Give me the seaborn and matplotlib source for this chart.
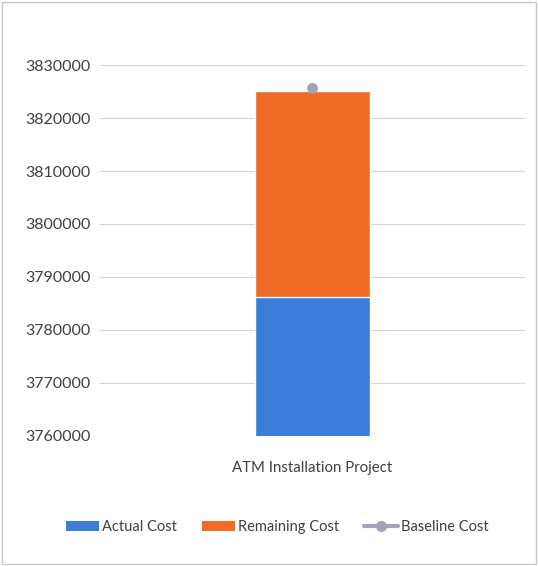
import pandas as pd
import seaborn as sns
import matplotlib.pyplot as plt
from matplotlib.patches import Patch, Rectangle
from matplotlib.lines import Line2D
from matplotlib.ticker import FuncFormatter

# Chart values
projects = ["ATM Installation Project"]
actual_cost = [3786200]
remaining_cost = [39000]
baseline_cost = [3825600]

df = pd.DataFrame({
    "Project": projects,
    "Actual": actual_cost,
    "Remaining": remaining_cost,
    "Baseline": baseline_cost,
})
df["Total"] = df["Actual"] + df["Remaining"]

sns.set_theme(style="white")
plt.rcParams["font.family"] = ["Lato", "DejaVu Sans"]

blue = "#3b7dd8"
orange = "#ef6b26"
gray = "#a3a3b8"
text_col = "#404040"

fig = plt.figure(figsize=(5.38, 5.66), dpi=100)
ax = fig.add_axes([0.186, 0.230, 0.79, 0.655])

sns.barplot(data=df, x="Project", y="Total", color=orange, width=0.27,
            saturation=1, ax=ax, zorder=2)
sns.barplot(data=df, x="Project", y="Actual", color=blue, width=0.27,
            saturation=1, ax=ax, zorder=3)
sns.scatterplot(data=df, x="Project", y="Baseline", color=gray, s=60,
                marker="o", edgecolor="none", ax=ax, zorder=4)

ax.set_ylim(3760000, 3830000)
ax.set_xlim(-0.5, 0.5)
ax.set_yticks(range(3760000, 3830001, 10000))
ax.yaxis.set_major_formatter(FuncFormatter(lambda v, p: f"{int(v)}"))
ax.yaxis.grid(True, color="#d4d4d4", linewidth=0.8, zorder=0)
ax.set_axisbelow(True)
for s in ax.spines.values():
    s.set_visible(False)
ax.set_xlabel("")
ax.set_ylabel("")
ax.tick_params(axis="y", length=0, labelsize=11.5, colors=text_col, pad=7)
ax.tick_params(axis="x", length=0, labelsize=10.8, colors=text_col, pad=18)

handles = [
    Patch(facecolor=blue, edgecolor="none", label="Actual Cost"),
    Patch(facecolor=orange, edgecolor="none", label="Remaining Cost"),
    Line2D([0], [0], color=gray, lw=3, marker="o", markersize=7,
           label="Baseline Cost"),
]
fig.legend(handles=handles, loc="center", bbox_to_anchor=(0.515, 0.069),
           ncol=3, frameon=False, fontsize=10.5, handlelength=2.3,
           handletextpad=0.2, columnspacing=1.7, labelcolor=text_col)

fig.patches.append(Rectangle((0.004, 0.004), 0.992, 0.992, transform=fig.transFigure,
                             fill=False, edgecolor="#c8c8c8", linewidth=1))

fig.savefig("out.png", dpi=100)
